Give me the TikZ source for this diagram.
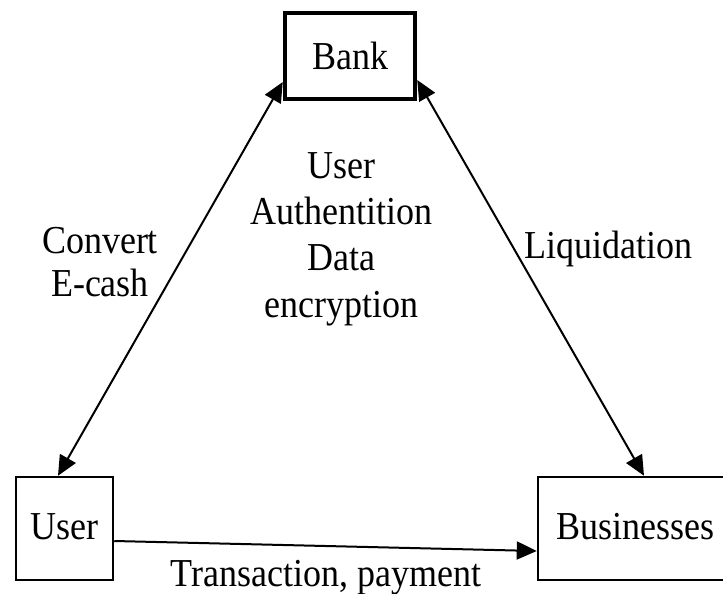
\documentclass[tikz,border=0pt]{standalone}
\usepackage{fontspec}
\setmainfont{Liberation Serif}
\usepackage{graphicx}
\usetikzlibrary{arrows.meta}
\newcommand{\vst}[1]{\scalebox{1}[1.1]{#1}}
\begin{document}
\begin{tikzpicture}[x=1pt,y=-1pt,
  box/.style={draw=black, line width=2.5pt, rectangle, inner sep=0pt, fill=white},
  lbl/.style={inner sep=0pt, align=center, font=\fontsize{36}{40}\selectfont},
  link/.style={line width=2pt, draw=black},
  tip/.style={-{Triangle[length=20pt,width=18pt]}},
  dtip/.style={{Triangle[length=20pt,width=18pt]}-{Triangle[length=20pt,width=18pt]}}]
\useasboundingbox[fill=white] (0,0) rectangle (723,594);
% boxes
\node[box, line width=4.5pt, minimum width=130pt, minimum height=86pt] (bank) at (350,56)
  {\fontsize{36}{40}\selectfont\raisebox{-2.5pt}{\vst{Bank}}};
\node[box, minimum width=97pt, minimum height=103pt] (user) at (64.5,528.5)
  {\fontsize{36}{40}\selectfont\raisebox{4.5pt}{\vst{User}}};
\node[box, minimum width=194pt, minimum height=103pt] (bus) at (635,528.5)
  {\fontsize{36}{40}\selectfont\raisebox{5pt}{\vst{Businesses}}};
% connectors
\draw[link, dtip] ([xshift=-6.5pt]user.north) -- ([yshift=-26pt]bank.west);
\draw[link, dtip] ([yshift=-24pt]bank.east) -- ([xshift=9pt]bus.north);
\draw[link, tip] ([yshift=-12.5pt]user.east) -- ([yshift=-22.5pt]bus.west);
% labels
\node[lbl] (conv) at (100,266) {\vst{\begin{tabular}{@{}c@{}}Convert\\[-1pt]E-cash\end{tabular}}};
\node[lbl] (mid) at (341.5,239) {\vst{\begin{tabular}{@{}c@{}}User\\[2pt]Authentition\\[2pt]Data\\[2pt]encryption\end{tabular}}};
\node[lbl] (liq) at (608,249) {\vst{Liquidation}};
\node[lbl] (tp) at (326,578) {\vst{Transaction, payment}};
\end{tikzpicture}
\end{document}
